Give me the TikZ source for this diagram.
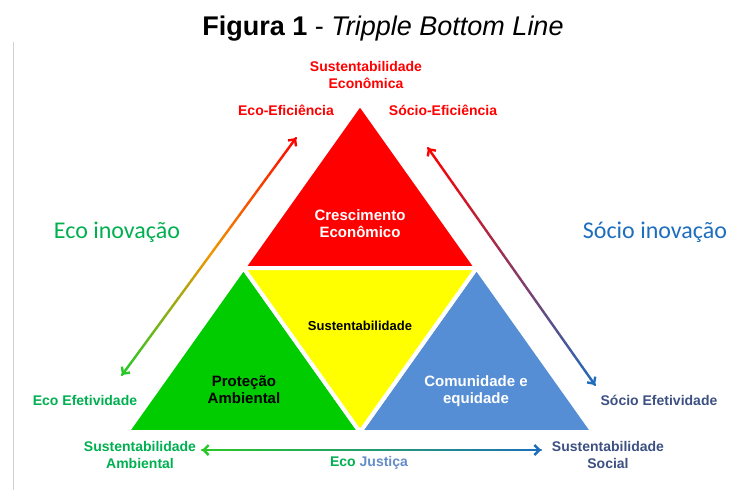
\documentclass[tikz,border=0pt]{standalone}
\usepackage{fontspec}
\setmainfont{Liberation Sans}
\newfontfamily\calibrifont{Carlito}
\usetikzlibrary{positioning}
\usetikzlibrary{arrows.meta}
\usetikzlibrary{calc}
\usepackage{xcolor}
\definecolor{trired}{RGB}{255,0,0}
\definecolor{triyellow}{RGB}{255,255,0}
\definecolor{trigreen}{RGB}{0,204,0}
\definecolor{triblue}{RGB}{85,142,213}
\definecolor{ecogreen}{RGB}{0,176,80}
\definecolor{socioblue}{RGB}{30,110,190}
\definecolor{sociogray}{RGB}{60,80,130}
\definecolor{justblue}{RGB}{100,140,200}
\definecolor{arrgreen}{RGB}{40,200,40}
\definecolor{arrorange}{RGB}{240,150,0}
\definecolor{arrblue}{RGB}{30,110,190}

\begin{document}
\begin{tikzpicture}[x=1pt,y=-1pt,
	lbl/.style={font=\bfseries\fontsize{14}{17}\selectfont,align=center,inner sep=0pt},
	inlbl/.style={font=\bfseries\fontsize{15}{17}\selectfont,align=center,inner sep=0pt},
	innov/.style={font=\calibrifont\fontsize{24}{26}\selectfont,inner sep=0pt},
	part/.style={draw=white,line width=4pt,line join=miter},
	seg/.style={line width=2.4pt,line cap=round},
	tip/.style={line width=2.4pt,-{Straight Barb[length=5pt,width=10pt]}}]
	    \useasboundingbox (0,0) rectangle (736,490);
	    \draw[gray!35,line width=0.8pt] (13,42) -- (13,490);
	    \node(title) [font=\fontsize{27}{30}\selectfont,inner sep=0pt] at (383,29) {\textbf{Figura 1} - \textit{Tripple Bottom Line}};
	    % the four triangles
	    \coordinate(A) at (360,104);
	    \coordinate(L) at (127,432);
	    \coordinate(R) at (593,432);
	    \coordinate(ML) at ($(A)!0.5!(L)$);
	    \coordinate(MR) at ($(A)!0.5!(R)$);
	    \coordinate(MB) at ($(L)!0.5!(R)$);
	    \filldraw[part,fill=trired] (A) -- (ML) -- (MR) -- cycle;
	    \filldraw[part,fill=trigreen] (ML) -- (L) -- (MB) -- cycle;
	    \filldraw[part,fill=triblue] (MR) -- (MB) -- (R) -- cycle;
	    \filldraw[part,fill=triyellow] (ML) -- (MR) -- (MB) -- cycle;
	    \node(cresc) [inlbl,text=white] at (360,224) {Crescimento\\Econômico};
	    \node(sust) [lbl,font=\bfseries\fontsize{13}{15}\selectfont] at (360,326) {Sustentabilidade};
	    \node(prot) [inlbl] at (244,390) {Proteção\\Ambiental};
	    \node(comun) [inlbl,text=white] at (476,391) {Comunidade e\\equidade};
	    % labels round the triangle
	    \node(secon) [lbl,text=trired] at (366,75) {Sustentabilidade\\Econômica};
	    \node(ecoefic) [lbl,text=trired] at (286,110) {Eco-Eficiência};
	    \node(socefic) [lbl,text=trired] at (443,110) {Sócio-Eficiência};
	    \node(ecoinov) [innov,text=ecogreen] at (117,232) {Eco inovação};
	    \node(socinov) [innov,text=socioblue] at (655,232) {Sócio inovação};
	    \node(ecoefet) [lbl,text=ecogreen] at (85,400) {Eco Efetividade};
	    \node(socefet) [lbl,text=sociogray] at (659,400) {Sócio Efetividade};
	    \node(samb) [lbl,text=ecogreen] at (140,455) {Sustentabilidade\\Ambiental};
	    \node(ssoc) [lbl,text=sociogray] at (608,455) {Sustentabilidade\\Social};
	    \node(ecojust) [lbl] at (369,463) {\textcolor{ecogreen}{Eco} \textcolor{justblue}{Justiça}};
	    % shaded arrows
	    \coordinate(ebot) at (122,375);
	    \coordinate(etop) at (296,138);
	    \coordinate(stop) at (428,148);
	    \coordinate(sbot) at (595,385);
	    \coordinate(bleft) at (202,450);
	    \coordinate(bright) at (541,450);
	    \foreach \i in {0,...,39}{
	      \pgfmathsetmacro\ta{\i/40}
	      \pgfmathsetmacro\tb{(\i+1)/40}
	      \pgfmathtruncatemacro\p{\i<20 ? 5*\i : 5*(\i-20)}
	      \ifnum\i<20
	        \colorlet{segcol}{arrorange!\p!arrgreen}
	      \else
	        \colorlet{segcol}{trired!\p!arrorange}
	      \fi
	      \draw[seg,draw=segcol] ($(ebot)!\ta!(etop)$) -- ($(ebot)!\tb!(etop)$);
	      \pgfmathtruncatemacro\p{2.5*\i}
	      \draw[seg,draw=arrblue!\p!trired] ($(stop)!\ta!(sbot)$) -- ($(stop)!\tb!(sbot)$);
	      \draw[seg,draw=arrblue!\p!arrgreen] ($(bleft)!\ta!(bright)$) -- ($(bleft)!\tb!(bright)$);
	    }
	    \draw[tip,draw=trired] ($(etop)!4pt!(ebot)$) -- (etop);
	    \draw[tip,draw=arrgreen] ($(ebot)!4pt!(etop)$) -- (ebot);
	    \draw[tip,draw=trired] ($(stop)!4pt!(sbot)$) -- (stop);
	    \draw[tip,draw=arrblue] ($(sbot)!4pt!(stop)$) -- (sbot);
	    \draw[tip,draw=arrgreen] ($(bleft)!4pt!(bright)$) -- (bleft);
	    \draw[tip,draw=arrblue] ($(bright)!4pt!(bleft)$) -- (bright);
	  \end{tikzpicture}
\end{document}
